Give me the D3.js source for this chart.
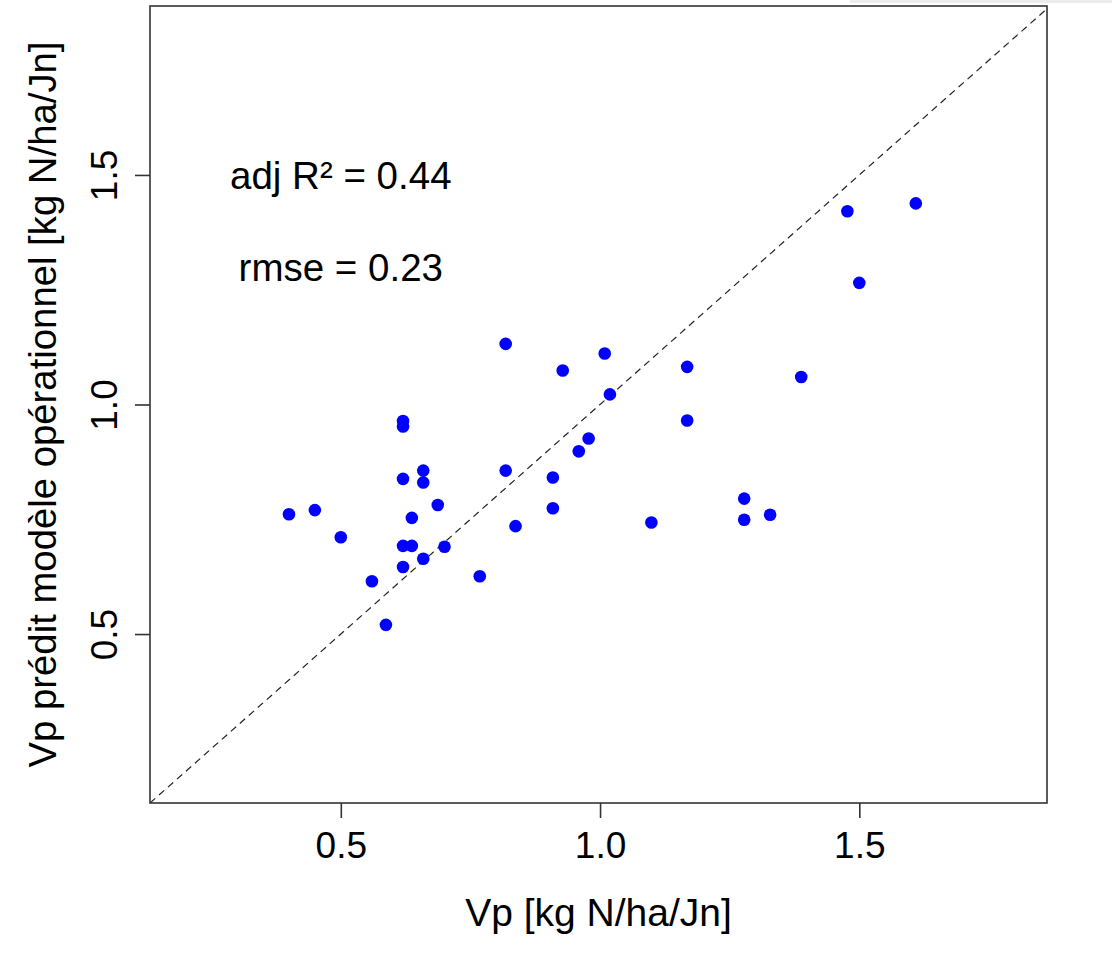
<!DOCTYPE html>
<html>
<head>
<meta charset="utf-8">
<script src="https://cdn.jsdelivr.net/npm/d3@7"></script>
<style>
  body { margin: 0; background: #fff; }
  svg { display: block; font-family: "Liberation Sans", Arial, sans-serif; }
</style>
</head>
<body>
<svg id="chart"></svg>
<script>
// observed Vp vs predicted Vp (kg N/ha/Jn)
var vpObs = [0.40, 0.45, 0.50, 0.56, 0.587, 0.62, 0.62, 0.62, 0.62, 0.62,
             0.637, 0.637, 0.659, 0.659, 0.687, 0.659, 0.70, 0.768, 0.818, 0.818,
             0.837, 0.909, 0.909, 0.928, 0.959, 0.978, 1.009, 1.019, 1.168, 1.168,
             1.099, 1.278, 1.278, 1.328, 1.388, 1.477, 1.500, 1.609];
var vpPred = [0.761, 0.770, 0.711, 0.615, 0.520, 0.964, 0.952, 0.838, 0.692, 0.646,
              0.692, 0.753, 0.856, 0.830, 0.781, 0.664, 0.690, 0.626, 1.132, 0.856,
              0.735, 0.841, 0.774, 1.074, 0.898, 0.926, 1.111, 1.022, 1.082, 0.965,
              0.743, 0.795, 0.749, 0.760, 1.060, 1.421, 1.265, 1.438];
var tickValues = [0.5, 1.0, 1.5];
var statLabels = ["adj R\u00b2 = 0.44", "rmse = 0.23"];
var statY = [1.5, 1.3];

var width = 1112, height = 958;
var mLeft = 150, mRight = 1047, mTop = 6, mBottom = 803;
var tickFont = 37, titleFont = 39, yTitleFont = 38.3, statFont = 38.5;

var svg = d3.select("#chart").attr("width", width).attr("height", height);

// faint strip of the screenshot edge
svg.append("rect").attr("x", 850).attr("y", 0).attr("width", 262).attr("height", 3).attr("fill", "#ececec");

var x = d3.scaleLinear().domain([0.132, 1.862]).range([mLeft, mRight]);
var y = d3.scaleLinear().domain([0.132, 1.868]).range([mBottom, mTop]);

// 1:1 line
svg.append("defs").append("clipPath").attr("id", "clip")
    .append("rect").attr("x", mLeft).attr("y", mTop)
    .attr("width", mRight - mLeft).attr("height", mBottom - mTop);

svg.append("line")
    .attr("clip-path", "url(#clip)")
    .attr("x1", x(0.132)).attr("y1", y(0.132))
    .attr("x2", x(1.87)).attr("y2", y(1.87))
    .attr("stroke", "#222")
    .attr("stroke-width", 1.2)
    .attr("stroke-dasharray", "7,5");

// points
svg.selectAll("circle.pt")
    .data(vpObs)
    .enter().append("circle")
    .attr("class", "pt")
    .attr("cx", d => x(d))
    .attr("cy", (d, i) => y(vpPred[i]))
    .attr("r", 6.3)
    .attr("fill", "#0000ff");

// box
svg.append("rect")
    .attr("x", mLeft).attr("y", mTop)
    .attr("width", mRight - mLeft).attr("height", mBottom - mTop)
    .attr("fill", "none").attr("stroke", "#333").attr("stroke-width", 1.6);

// axes
var xAxis = d3.axisBottom(x).tickValues(tickValues).tickFormat(d3.format(".1f")).tickSize(15).tickPadding(14);
var gx = svg.append("g").attr("transform", "translate(0," + mBottom + ")").call(xAxis);
gx.select(".domain").remove();
gx.selectAll(".tick line").attr("stroke", "#333").attr("stroke-width", 1.6);
gx.selectAll(".tick text").attr("font-size", tickFont).attr("fill", "#000")
    .attr("font-family", "Liberation Sans, Arial, sans-serif")
    .attr("dy", "0.71em");

var yAxis = d3.axisLeft(y).tickValues(tickValues).tickFormat(d3.format(".1f")).tickSize(15);
var gy = svg.append("g").attr("transform", "translate(" + mLeft + ",0)").call(yAxis);
gy.select(".domain").remove();
gy.selectAll(".tick line").attr("stroke", "#333").attr("stroke-width", 1.6);
gy.selectAll(".tick text")
    .attr("font-size", tickFont).attr("fill", "#000")
    .attr("font-family", "Liberation Sans, Arial, sans-serif")
    .attr("x", null).attr("dy", null)
    .attr("text-anchor", "middle")
    .attr("transform", "translate(-33,0) rotate(-90)");

// axis titles
svg.append("text")
    .attr("x", (mLeft + mRight) / 2).attr("y", 926)
    .attr("text-anchor", "middle")
    .attr("font-size", titleFont)
    .text("Vp [kg N/ha/Jn]");

svg.append("text")
    .attr("transform", "translate(56," + ((mTop + mBottom) / 2) + ") rotate(-90)")
    .attr("text-anchor", "middle")
    .attr("font-size", yTitleFont)
    .text("Vp prédit modèle opérationnel [kg N/ha/Jn]");

// stats
svg.selectAll("text.stat")
    .data(statLabels)
    .enter().append("text")
    .attr("class", "stat")
    .attr("x", x(0.5))
    .attr("y", (d, i) => y(statY[i]))
    .attr("dy", "0.36em")
    .attr("text-anchor", "middle")
    .attr("font-size", statFont)
    .text(d => d);
</script>
</body>
</html>
